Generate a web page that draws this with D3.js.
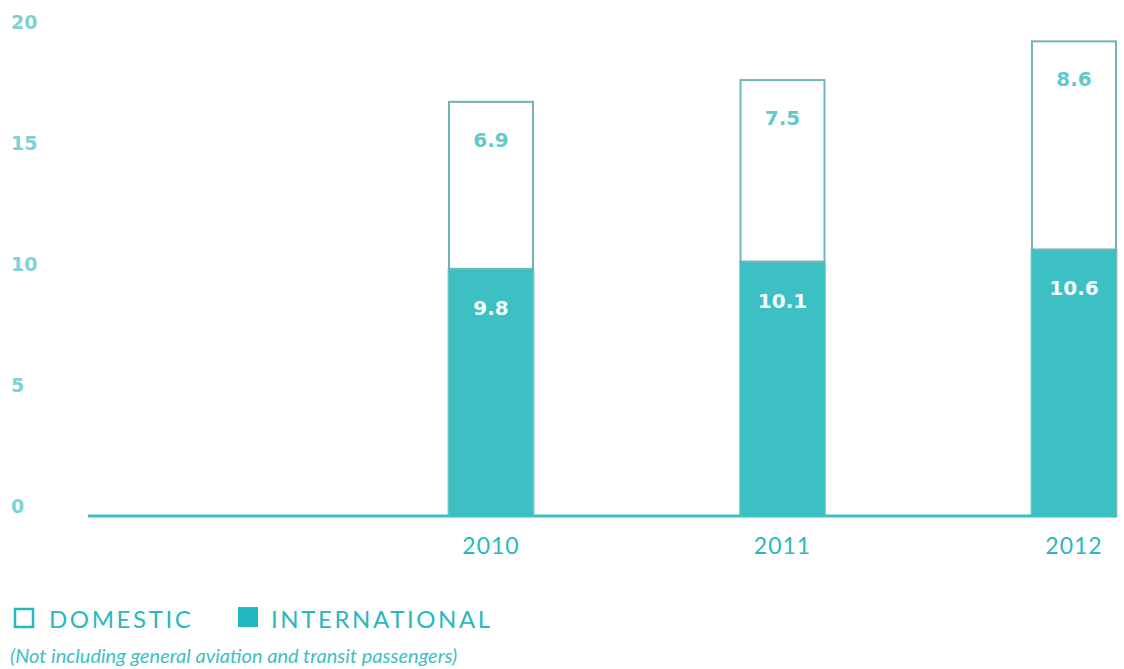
<!DOCTYPE html>
<html>
  <head>
    <meta charset="utf-8">
    <title>Passengers</title>
    <script src="https://d3js.org/d3.v7.min.js"></script>
    <style>
      body { margin: 0; background: #fff; }
      .chart { font-family: Lato, "Open Sans", sans-serif; }
      .y-tick { fill: #7fd2d4; font-size: 19px; font-weight: 700; font-family: "DejaVu Sans", sans-serif; }
      .x-tick { fill: #2ab8bd; font-size: 23px; letter-spacing: 1px; }
      .lbl-dom { fill: #5fc9cc; font-size: 20px; font-weight: 700; font-family: "DejaVu Sans", sans-serif; }
      .lbl-int { fill: #f2fbfb; font-size: 20px; font-weight: 700; font-family: "DejaVu Sans", sans-serif; }
      .legend-text { fill: #2ab8bd; font-size: 24px; letter-spacing: 2.6px; font-weight: 400; }
      .note { fill: #3dbfc3; font-size: 20px; font-style: italic; }
    </style>
  </head>
  <body>
    <svg class="chart" width="1124" height="669"></svg>
    <script>
      // data
      const years = ["2010", "2011", "2012"];
      const domestic = [6.9, 7.5, 8.6];
      const international = [9.8, 10.1, 10.6];
      const yTicks = [0, 5, 10, 15, 20];

      const svg = d3.select(".chart");

      const y = d3.scaleLinear().domain([0, 20]).range([506, 22]);
      const x = d3.scaleBand().domain(years).range([448, 1117]).paddingInner(0.705).paddingOuter(0);

      const rows = years.map((yr, i) => ({ year: yr, dom: domestic[i], intl: international[i] }));

      // y tick labels
      svg.selectAll(".y-tick")
        .data(yTicks)
        .enter().append("text")
        .attr("class", "y-tick")
        .attr("x", 11)
        .attr("y", d => y(d) + 7)
        .text(d => d);

      // international bars
      svg.selectAll(".bar-int")
        .data(rows)
        .enter().append("rect")
        .attr("class", "bar-int")
        .attr("x", d => x(d.year))
        .attr("width", x.bandwidth())
        .attr("y", d => y(d.intl))
        .attr("height", d => 516 - y(d.intl))
        .attr("fill", "#3cc0c4")
        .attr("stroke", "#9fc9ca")
        .attr("stroke-width", 1);

      // domestic bars
      svg.selectAll(".bar-dom")
        .data(rows)
        .enter().append("rect")
        .attr("class", "bar-dom")
        .attr("x", d => x(d.year) + 1)
        .attr("width", x.bandwidth() - 2)
        .attr("y", d => y(d.intl + d.dom))
        .attr("height", d => y(d.intl) - y(d.intl + d.dom))
        .attr("fill", "#fff")
        .attr("stroke", "#72b3b5")
        .attr("stroke-width", 2);

      // baseline
      svg.append("line")
        .attr("x1", 88).attr("x2", 1117)
        .attr("y1", 516).attr("y2", 516)
        .attr("stroke", "#3cc0c4")
        .attr("stroke-width", 3);

      // value labels
      svg.selectAll(".lbl-dom")
        .data(rows)
        .enter().append("text")
        .attr("class", "lbl-dom")
        .attr("text-anchor", "middle")
        .attr("x", d => x(d.year) + x.bandwidth() / 2)
        .attr("y", d => y(d.intl + d.dom) + 45)
        .text(d => d.dom);

      svg.selectAll(".lbl-int")
        .data(rows)
        .enter().append("text")
        .attr("class", "lbl-int")
        .attr("text-anchor", "middle")
        .attr("x", d => x(d.year) + x.bandwidth() / 2)
        .attr("y", d => y(d.intl) + 46)
        .text(d => d.intl);

      // x labels
      svg.selectAll(".x-tick")
        .data(years)
        .enter().append("text")
        .attr("class", "x-tick")
        .attr("text-anchor", "middle")
        .attr("x", d => x(d) + x.bandwidth() / 2)
        .attr("y", 554)
        .text(d => d);

      // legend
      svg.append("rect")
        .attr("x", 15).attr("y", 609).attr("width", 18).attr("height", 18)
        .attr("fill", "none").attr("stroke", "#2ab8bd").attr("stroke-width", 2.5);
      svg.append("text").attr("class", "legend-text").attr("x", 49).attr("y", 628).text("DOMESTIC");
      svg.append("rect")
        .attr("x", 238).attr("y", 607).attr("width", 20).attr("height", 20)
        .attr("fill", "#22b8bf");
      svg.append("text").attr("class", "legend-text").attr("x", 271).attr("y", 628).text("INTERNATIONAL");

      svg.append("text").attr("class", "note").attr("x", 10).attr("y", 663)
        .text("(Not including general aviation and transit passengers)");
    </script>
  </body>
</html>
